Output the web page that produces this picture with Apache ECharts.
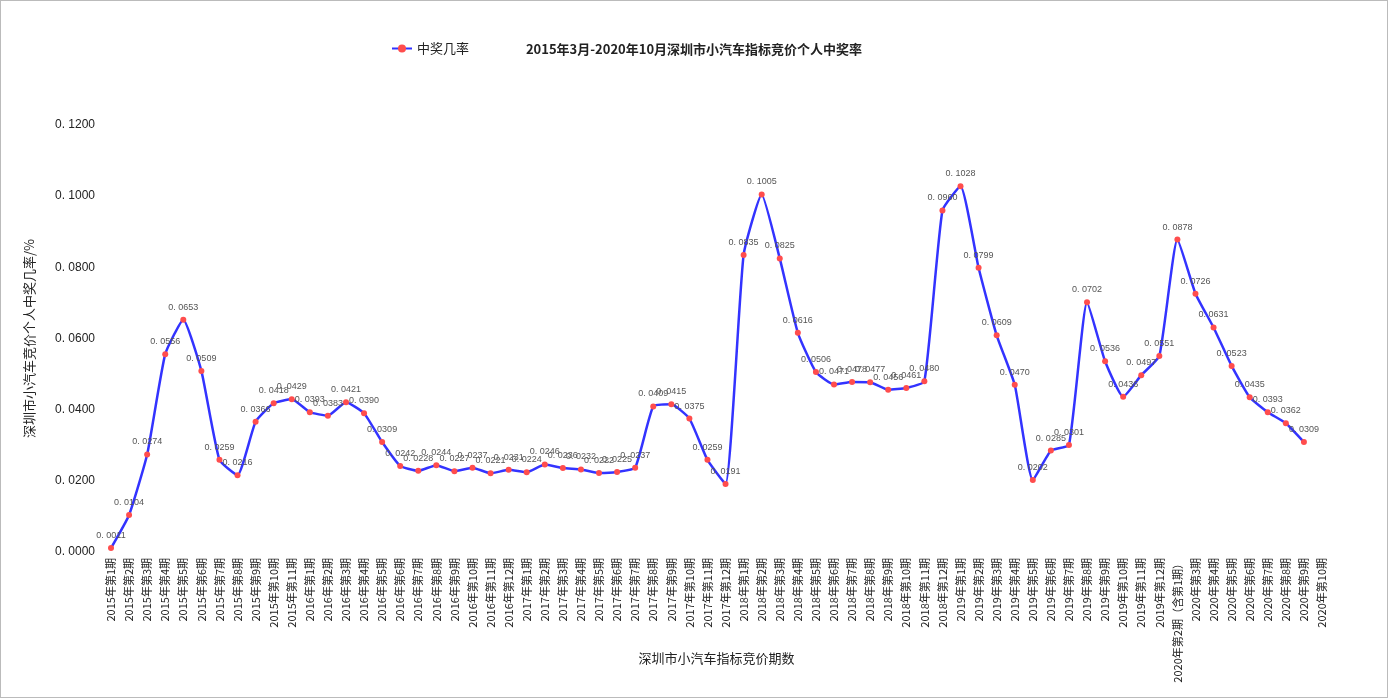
<!DOCTYPE html>
<html><head><meta charset="utf-8">
<script src="https://cdn.jsdelivr.net/npm/echarts@6/dist/echarts.min.js"></script>
<style>html,body{margin:0;padding:0;background:#fff}#c{width:1386px;height:696px;border:1px solid #bbb}</style>
</head><body><div id="c"></div>
<script>
const y2015 = [0.0011,0.0104,0.0274,0.0556,0.0653,0.0509,0.0259,0.0216,0.0366,0.0418,0.0429];
const y2016 = [0.0393,0.0383,0.0421,0.0390,0.0309,0.0242,0.0228,0.0244,0.0227,0.0237,0.0221,0.0231];
const y2017 = [0.0224,0.0246,0.0236,0.0232,0.0222,0.0225,0.0237,0.0409,0.0415,0.0375,0.0259,0.0191];
const y2018 = [0.0835,0.1005,0.0825,0.0616,0.0506,0.0471,0.0478,0.0477,0.0456,0.0461,0.0480,0.0960];
const y2019 = [0.1028,0.0799,0.0609,0.0470,0.0202,0.0285,0.0301,0.0702,0.0536,0.0436,0.0497,0.0551];
const y2020 = [0.0878,0.0726,0.0631,0.0523,0.0435,0.0393,0.0362,0.0309,null];
const periods2015 = [1,2,3,4,5,6,7,8,9,10,11];
const periods12 = [1,2,3,4,5,6,7,8,9,10,11,12];
const periods2020 = ['第2期（含第1期）','第3期','第4期','第5期','第6期','第7期','第8期','第9期','第10期'];

const categories = [
  ...periods2015.map(p=>'2015年第'+p+'期'),
  ...periods12.map(p=>'2016年第'+p+'期'),
  ...periods12.map(p=>'2017年第'+p+'期'),
  ...periods12.map(p=>'2018年第'+p+'期'),
  ...periods12.map(p=>'2019年第'+p+'期'),
  ...periods2020.map(p=>'2020年'+p)
];
const values = [...y2015,...y2016,...y2017,...y2018,...y2019,...y2020];
const fmt = v => v.toFixed(4).replace('.', '. ');

const chart = echarts.init(document.getElementById('c'));
chart.setOption({
  animation:false,
  title:{text:'2015年3月-2020年10月深圳市小汽车指标竞价个人中奖率',left:'center',top:37,
    textStyle:{fontSize:13,fontWeight:'bold',color:'#222',fontFamily:'Noto Sans CJK SC'}},
  legend:{left:385,top:36,itemWidth:20,itemHeight:10,
    textStyle:{fontSize:13,color:'#222',fontFamily:'Noto Sans CJK SC'},data:['中奖几率']},
  grid:{left:110,right:65,top:124,bottom:145,outerBoundsMode:'none',containLabel:false},
  xAxis:{type:'category',data:categories,boundaryGap:false,
    name:'深圳市小汽车指标竞价期数',nameLocation:'middle',nameGap:100,nameMoveOverlap:false,
    nameTextStyle:{fontSize:13,color:'#222',fontFamily:'Noto Sans CJK SC'},
    axisLine:{show:false},axisTick:{show:false},
    axisLabel:{interval:0,rotate:90,fontSize:11,color:'#222',fontFamily:'Noto Sans CJK SC',margin:6}},
  yAxis:{type:'value',min:0,max:0.12,interval:0.02,
    name:'深圳市小汽车竞价个人中奖几率/%',nameLocation:'middle',nameGap:75,nameMoveOverlap:false,
    nameTextStyle:{fontSize:13,color:'#222',fontFamily:'Noto Sans CJK SC'},
    axisLine:{show:false},axisTick:{show:false},splitLine:{show:false},
    axisLabel:{formatter:fmt,fontSize:12,color:'#222',margin:16}},
  series:[{name:'中奖几率',type:'line',data:values,smooth:0.15,
    lineStyle:{color:'#3333ff',width:2.5},itemStyle:{color:'#ff4d4d'},
    symbol:'circle',symbolSize:6,showAllSymbol:true,
    label:{show:true,position:'top',formatter:p=>fmt(p.value),fontSize:9,color:'#555'}}]
});
</script></body></html>
